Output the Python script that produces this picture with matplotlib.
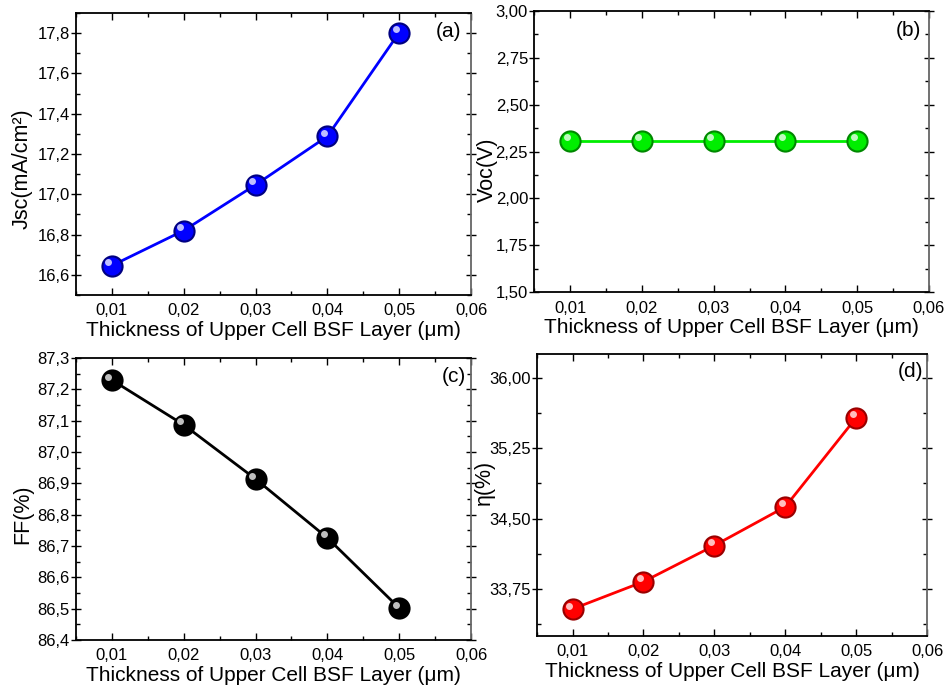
import matplotlib
matplotlib.use('Agg')
import matplotlib.pyplot as plt
import matplotlib.transforms as mtransforms
from matplotlib.ticker import MultipleLocator, FuncFormatter

plt.rcParams['font.family'] = ['Liberation Sans', 'DejaVu Sans']

# Data
thickness = [0.01, 0.02, 0.03, 0.04, 0.05]
jsc = [16.646, 16.82, 17.047, 17.288, 17.803]
voc = [2.308, 2.308, 2.308, 2.308, 2.308]
ff = [87.23, 87.087, 86.914, 86.726, 86.502]
eta = [33.537, 33.828, 34.213, 34.625, 35.574]

xlabel = 'Thickness of Upper Cell BSF Layer (\u03bcm)'

fig = plt.figure(figsize=(9.44, 6.86), dpi=100)

# [left, bottom, width, height], ylabel, label pos, data, colour, rim, ylim, major, minor, decimals, tag
panels = [
    ([0.0805, 0.570, 0.4185, 0.411], 'Jsc(mA/cm\u00b2)', (-0.109, 0.447), jsc, '#0000ff', '#000080', (16.5, 17.9), 0.2, 0.1, 1, '(a)', 0.975, 0.933),
    ([0.566, 0.574, 0.418, 0.410], 'Voc(V)', (-0.092, 0.436), voc, '#00ee00', '#008800', (1.5, 3.0), 0.25, 0.125, 2, '(b)', 0.98, 0.932),
    ([0.0805, 0.067, 0.4185, 0.411], 'FF(%)', (-0.109, 0.447), ff, '#000000', '#000000', (86.4, 87.3), 0.1, 0.05, 1, '(c)', 0.986, 0.934),
    ([0.569, 0.073, 0.413, 0.4105], '\u03b7(%)', (-0.108, 0.545), eta, '#ff0000', '#990000', (33.25, 36.25), 0.75, 0.375, 2, '(d)', 0.99, 0.938),
]

for rect, ylab, lpos, vals, col, dark, ylim, major, minor, dec, tag, tx, ty in panels:
    ax = fig.add_axes(rect)
    ax.plot(thickness, vals, '-', color=col, lw=2, zorder=2)
    # sphere-like marker: dark rim, coloured body, light highlight
    ax.plot(thickness, vals, 'o', ms=16, color=dark, mec='none', zorder=3)
    ax.plot(thickness, vals, 'o', ms=13, color=col, mec='none', zorder=4)
    shift = mtransforms.ScaledTranslation(-2.5 / 72, 2.5 / 72, fig.dpi_scale_trans)
    ax.plot(thickness, vals, 'o', ms=5, color='white', alpha=0.75, mec='none',
            transform=ax.transData + shift, zorder=5)

    ax.set_xlim(0.005, 0.06)
    ax.set_ylim(*ylim)
    ax.xaxis.set_major_locator(MultipleLocator(0.01))
    ax.xaxis.set_minor_locator(MultipleLocator(0.005))
    ax.yaxis.set_major_locator(MultipleLocator(major))
    ax.yaxis.set_minor_locator(MultipleLocator(minor))
    ax.xaxis.set_major_formatter(FuncFormatter(lambda v, p: ('%.2f' % v).replace('.', ',') if v > 0.007 else ''))
    ax.yaxis.set_major_formatter(FuncFormatter(lambda v, p, d=dec: ('%.*f' % (d, v)).replace('.', ',')))

    ax.tick_params(which='both', top=True, right=True, direction='in', labelsize=12, width=1)
    ax.tick_params(axis='y', which='major', direction='inout', length=7, pad=1)
    ax.tick_params(axis='x', which='major', length=5, pad=6)
    ax.tick_params(which='minor', length=3)
    for s in ax.spines.values():
        s.set_linewidth(1.3)
    ax.spines['right'].set_color('#666666')

    ax.set_ylabel(ylab, fontsize=15.5)
    ax.yaxis.set_label_coords(*lpos)
    ax.set_xlabel(xlabel, fontsize=15, labelpad=2)
    ax.text(tx, ty, tag, transform=ax.transAxes, ha='right', va='center', fontsize=15)

fig.savefig('out.png', dpi=100)
